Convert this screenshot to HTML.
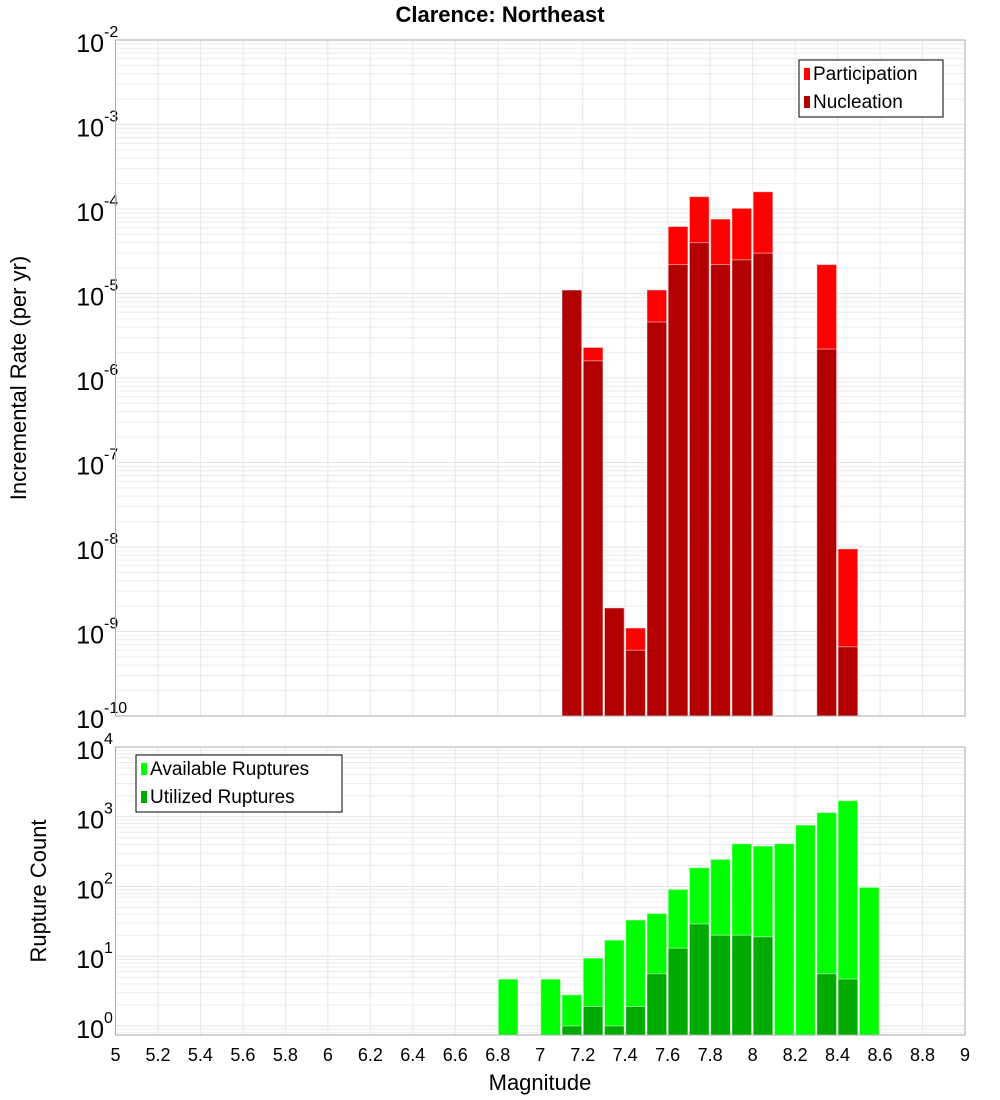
<!DOCTYPE html>
<html><head><meta charset="utf-8"><style>
body{margin:0;background:#fff;}
svg{display:block;font-family:"Liberation Sans","DejaVu Sans",sans-serif;}
</style></head><body>
<svg id="c" width="1000" height="1100" xmlns="http://www.w3.org/2000/svg"></svg>
<script>
const binStarts = [6.8,6.9,7.0,7.1,7.2,7.3,7.4,7.5,7.6,7.7,7.8,7.9,8.0,8.1,8.2,8.3,8.4,8.5];
const participation = [0,0,0,1.1e-5,2.3e-6,1.9e-9,1.1e-9,1.1e-5,6.2e-5,1.4e-4,7.6e-5,1.02e-4,1.6e-4,0,0,2.2e-5,9.5e-9,0];
const nucleation =    [0,0,0,1.1e-5,1.6e-6,1.9e-9,6e-10,4.6e-6,2.2e-5,4e-5,2.2e-5,2.5e-5,3e-5,0,0,2.2e-6,6.6e-10,0];
const available = [4.7,0,4.7,2.8,9.4,17,33,41,91,186,245,410,380,410,760,1150,1700,97];
const utilized =  [0,0,0,1,1.9,1,1.9,5.6,13,29,20,20,19,0,0,5.6,4.7,0];
const xTicks = ["5","5.2","5.4","5.6","5.8","6","6.2","6.4","6.6","6.8","7","7.2","7.4","7.6","7.8","8","8.2","8.4","8.6","8.8","9"];
const topExps = [-10,-9,-8,-7,-6,-5,-4,-3,-2];
const botExps = [0,1,2,3,4];

const NS="http://www.w3.org/2000/svg", svg=document.getElementById('c');
function mk(t,a,p){const e=document.createElementNS(NS,t);for(const k in a)e.setAttribute(k,a[k]);(p||svg).appendChild(e);return e;}
const X0=115.5,X1=965;
const xs=m=>X0+(m-5)*(X1-X0)/4;
const T={top:40,bot:716,lo:-10,hi:-2};
const B={top:747,bot:1035,lo:-0.13,hi:4.0};
const ys=(P,v)=>P.bot-(Math.log10(v)-P.lo)/(P.hi-P.lo)*(P.bot-P.top);

function panel(P,name,exps){
  const g=mk('g',{});
  
  
  mk('rect',{x:X0,y:P.top,width:X1-X0,height:P.bot-P.top,fill:'#fff'},g);
  for(let e=Math.floor(P.lo);e<P.hi;e++){for(let k=1;k<10;k++){const v=k*Math.pow(10,e);const lv=Math.log10(v);if(lv<P.lo||lv>P.hi)continue;const y=ys(P,v);mk('line',{x1:X0,x2:X1,y1:y,y2:y,stroke:k==1?'#e4e4e4':'#ececec','stroke-width':1},g);}}
  xTicks.forEach(t=>{const x=xs(+t);mk('line',{x1:x,x2:x,y1:P.top,y2:P.bot,stroke:'#e8e8e8'},g);});
  exps.forEach(e=>{const y=ys(P,Math.pow(10,e));const t=mk('text',{x:104,y:y+12,'font-size':25,'text-anchor':'end',fill:'#000'},g);t.textContent='10';
    const s=mk('text',{x:104,y:y-3,'font-size':16,'text-anchor':'start',fill:'#000'},g);s.textContent=String(e);});
  return g;
}
const gT=panel(T,'rate',topExps), gB=panel(B,'count',botExps);
const bw=(X1-X0)/40;
function bars(P,vals,color,name,g){
  vals.forEach((v,i)=>{if(!v)return;const x=xs(binStarts[i]);const y=ys(P,v);
    const r=mk('rect',{x:x+0.5,y:y,width:bw-1.5,height:P.bot-y,fill:color,stroke:'#fff','stroke-opacity':0.5,'stroke-width':1},g);
    
    });
}
bars(T,participation,'#ff0000','participation',gT);
bars(T,nucleation,'#b20000','nucleation',gT);
bars(B,available,'#00ff00','available',gB);
bars(B,utilized,'#00aa00','utilized',gB);
[T,B].forEach(P=>mk('rect',{x:X0,y:P.top,width:X1-X0,height:P.bot-P.top,fill:'none',stroke:'#aaa'}));
xTicks.forEach(t=>{const x=xs(+t);const e=mk('text',{x:x,y:1061,'font-size':18,'text-anchor':'middle'});e.textContent=t;});
function legend(x,y,w,items,name){
  const g=mk('g',{});
  mk('rect',{x:x,y:y,width:w,height:57,fill:'#fff',stroke:'#000'},g);
  items.forEach((it,i)=>{mk('rect',{x:x+5,y:y+8+i*28,width:6,height:12,fill:it[1]},g);const t=mk('text',{x:x+14,y:y+20+i*28,'font-size':19},g);t.textContent=it[0];});
}
legend(799,60,144,[['Participation','#ff0000'],['Nucleation','#b20000']],'rate-legend');
legend(136,755,206,[['Available Ruptures','#00ff00'],['Utilized Ruptures','#00aa00']],'count-legend');
let t=mk('text',{x:500,y:22,'font-size':22,'font-weight':'bold','text-anchor':'middle'});t.textContent='Clarence: Northeast';

t=mk('text',{x:540,y:1090,'font-size':22,'text-anchor':'middle'});t.textContent='Magnitude';

t=mk('text',{x:0,y:0,'font-size':22,'text-anchor':'middle',transform:'translate(26,378) rotate(-90)'});t.textContent='Incremental Rate (per yr)';

t=mk('text',{x:0,y:0,'font-size':22,'text-anchor':'middle',transform:'translate(46,891) rotate(-90)'});t.textContent='Rupture Count';

</script>
</body></html>
